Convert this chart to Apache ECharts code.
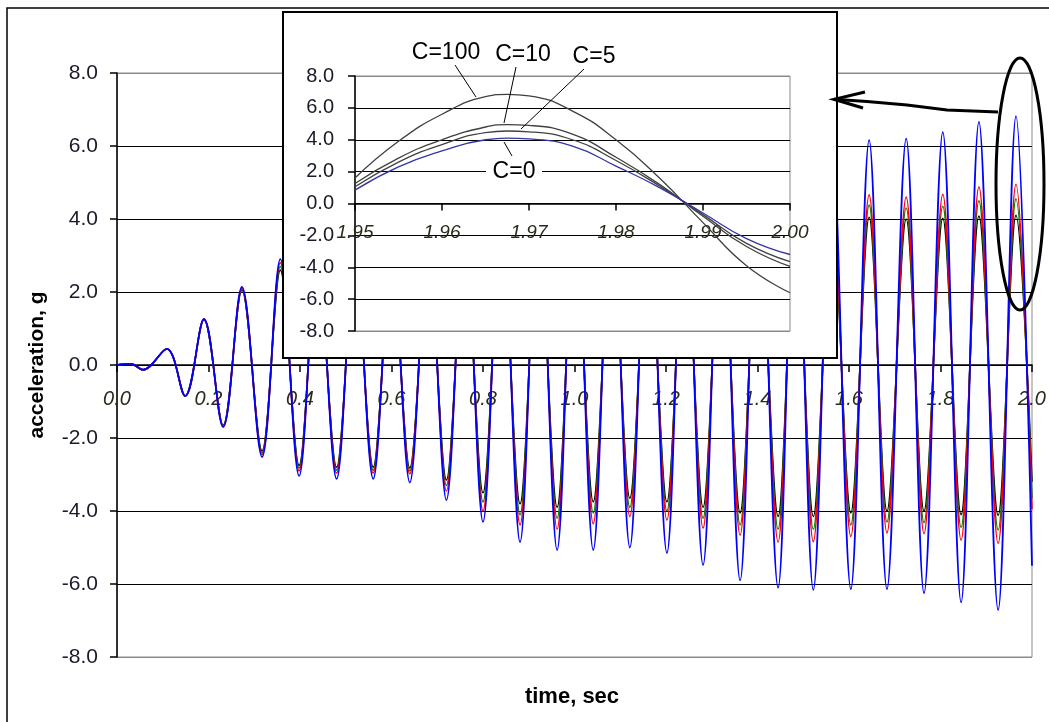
<!DOCTYPE html>
<html>
<head>
<meta charset="utf-8">
<script src="https://cdn.jsdelivr.net/npm/echarts@6/dist/echarts.min.js"></script>
<style>
html,body{margin:0;padding:0;background:#fff;}
#chart{width:1049px;height:722px;}
</style>
</head>
<body>
<div id="chart"></div>
<script>
// ---------- main chart data (time of each peak / trough, seconds) ----------
const mainTime = [0, 0.03, 0.057, 0.109, 0.149, 0.19, 0.232, 0.273, 0.317, 0.357, 0.398,
  0.438, 0.48, 0.52, 0.56, 0.60, 0.64, 0.68, 0.72,
  0.76, 0.80, 0.84, 0.881, 0.921, 0.962, 1.001, 1.041,
  1.081, 1.121, 1.161, 1.202, 1.241, 1.281, 1.321, 1.362,
  1.402, 1.445, 1.483, 1.522, 1.563, 1.604, 1.644, 1.683,
  1.725, 1.764, 1.805, 1.845, 1.884, 1.926, 1.965, 2.0];

const blueC100 = [0, 0.03, -0.13, 0.44, -0.85, 1.26, -1.7, 2.14, -2.52, 2.9, -3.04,
  3.1, -3.12, 3.15, -3.12, 3.2, -3.22, 3.5, -3.7,
  4.0, -4.3, 4.6, -4.85, 5.0, -5.07, 5.05, -5.07,
  5.05, -5.0, 5.1, -5.15, 5.3, -5.48, 5.7, -5.9,
  6.0, -6.1, 6.15, -6.16, 6.15, -6.14, 6.16, -6.14,
  6.2, -6.25, 6.38, -6.5, 6.66, -6.71, 6.82, -5.5];

const redC10 = [0, 0.03, -0.13, 0.44, -0.85, 1.25, -1.68, 2.1, -2.45, 2.8, -2.9,
  2.95, -2.96, 2.95, -2.96, 2.95, -2.98, 3.25, -3.45,
  3.75, -4.0, 4.25, -4.38, 4.45, -4.5, 4.4, -4.35,
  4.2, -4.15, 4.2, -4.25, 4.35, -4.47, 4.6, -4.66,
  4.75, -4.85, 4.8, -4.84, 4.75, -4.7, 4.66, -4.6,
  4.6, -4.62, 4.68, -4.8, 4.88, -4.89, 4.95, -3.95];

const greenC5 = [0, 0.03, -0.13, 0.44, -0.85, 1.25, -1.67, 2.08, -2.4, 2.7, -2.82,
  2.85, -2.88, 2.85, -2.88, 2.85, -2.9, 3.1, -3.3,
  3.55, -3.75, 3.95, -4.1, 4.15, -4.2, 4.1, -4.05,
  3.95, -3.9, 3.95, -4.0, 4.1, -4.2, 4.3, -4.38,
  4.45, -4.5, 4.45, -4.5, 4.42, -4.38, 4.38, -4.3,
  4.3, -4.32, 4.35, -4.45, 4.5, -4.52, 4.55, -3.65];

const blackC0 = [0, 0.03, -0.13, 0.44, -0.85, 1.24, -1.65, 2.05, -2.35, 2.6, -2.75,
  2.75, -2.8, 2.75, -2.8, 2.75, -2.82, 2.95, -3.15,
  3.35, -3.5, 3.65, -3.8, 3.85, -3.9, 3.8, -3.75,
  3.7, -3.65, 3.7, -3.75, 3.8, -3.9, 3.95, -4.05,
  4.1, -4.15, 4.1, -4.15, 4.05, -4.05, 4.05, -4.0,
  4.0, -4.0, 4.02, -4.1, 4.08, -4.12, 4.1, -3.2];

// ---------- inset data (zoom on the last peak) ----------
const insetTime = [1.95, 1.955, 1.96, 1.965, 1.9675, 1.97, 1.975, 1.98, 1.985, 1.99, 1.995, 2.0];
const insetC100 = [1.6, 3.9, 5.6, 6.7, 6.85, 6.75, 5.8, 4.0, 1.6, -1.2, -3.9, -5.6];
const insetC10  = [1.25, 2.85, 4.0, 4.8, 4.95, 4.9, 4.35, 2.9, 1.2, -0.8, -2.7, -3.95];
const insetC5   = [1.05, 2.6, 3.7, 4.45, 4.55, 4.5, 4.0, 2.7, 1.1, -0.7, -2.5, -3.65];
const insetC0   = [0.84, 2.3, 3.3, 4.0, 4.1, 4.05, 3.6, 2.35, 1.0, -0.6, -2.2, -3.2];

const insetLabels = ['C=100', 'C=10', 'C=5', 'C=0'];
const axisNames = {x: 'time, sec', y: 'acceleration, g'};

function pairs(t, v) { return t.map((x, i) => [x, v[i]]); }

const FONT = '"Liberation Sans", Arial, sans-serif';
const GRAY = '#8a8a8a';
const gridColors = [GRAY, '#000', '#000', '#000', '#000', '#000', '#000', '#000', GRAY];

function yAxisCfg(gridIndex, margin, fontSize, z) {
  return {
    type: 'value', gridIndex: gridIndex, min: -8, max: 8, interval: 2, z: z,
    axisLine: {show: true, onZero: false, lineStyle: {color: '#000', width: 1.5}},
    axisTick: {show: true, length: 7, lineStyle: {color: '#000', width: 1.5}},
    axisLabel: {margin: margin, fontSize: fontSize, fontFamily: FONT, color: '#1a1a2a',
      formatter: v => v.toFixed(1)},
    splitLine: {show: true, lineStyle: {color: gridColors, width: 1.2}}
  };
}

// grid geometry
const mainGrid = {left: 117, top: 73, width: 915, height: 584};
const insetGrid = {left: 355, top: 76, width: 435, height: 255};
// x axis sits on the y = 0 line (middle of a symmetric -8..8 range)
const mainZeroOffset = -mainGrid.height / 2;
const insetZeroOffset = -insetGrid.height / 2;

const chart = echarts.init(document.getElementById('chart'), null, {renderer: 'canvas'});

const option = {
  animation: false,
  backgroundColor: '#fff',
  grid: [
    Object.assign({show: true, borderColor: GRAY, borderWidth: 1, backgroundColor: 'transparent', z: 0}, mainGrid),
    Object.assign({show: true, borderColor: GRAY, borderWidth: 1, backgroundColor: 'transparent', z: 6}, insetGrid)
  ],
  xAxis: [
    {type: 'value', gridIndex: 0, min: 0, max: 2, interval: 0.2, z: 1,
     position: 'bottom', offset: mainZeroOffset,
     axisLine: {onZero: false, lineStyle: {color: '#000', width: 1.5}},
     axisTick: {length: 7, lineStyle: {color: '#000', width: 1.5}},
     axisLabel: {margin: 24, fontSize: 20, fontStyle: 'italic', fontFamily: FONT, color: '#2a2a1a',
       showMinLabel: true, showMaxLabel: true, formatter: v => v.toFixed(1)},
     splitLine: {show: false}},
    {type: 'value', gridIndex: 1, min: 1.95, max: 2.0, interval: 0.01, z: 7,
     position: 'bottom', offset: insetZeroOffset,
     axisLine: {onZero: false, lineStyle: {color: '#000', width: 1.5}},
     axisTick: {length: 7, lineStyle: {color: '#000', width: 1.5}},
     axisLabel: {margin: 20, fontSize: 19, fontStyle: 'italic', fontFamily: FONT, color: '#2a2a1a',
       showMinLabel: true, showMaxLabel: true, formatter: v => v.toFixed(2)},
     splitLine: {show: false}}
  ],
  yAxis: [
    yAxisCfg(0, 19, 21, 1),
    yAxisCfg(1, 21, 20, 7)
  ],
  series: [
    {type: 'line', xAxisIndex: 0, yAxisIndex: 0, z: 2, showSymbol: false, smooth: 0.36,
     data: pairs(mainTime, blackC0), lineStyle: {color: '#000000', width: 1.6}},
    {type: 'line', xAxisIndex: 0, yAxisIndex: 0, z: 2, showSymbol: false, smooth: 0.36,
     data: pairs(mainTime, greenC5), lineStyle: {color: '#008000', width: 1.6}},
    {type: 'line', xAxisIndex: 0, yAxisIndex: 0, z: 2, showSymbol: false, smooth: 0.36,
     data: pairs(mainTime, redC10), lineStyle: {color: '#ff0000', width: 1.6}},
    {type: 'line', xAxisIndex: 0, yAxisIndex: 0, z: 2, showSymbol: false, smooth: 0.36,
     data: pairs(mainTime, blueC100), lineStyle: {color: '#0000ff', width: 1.8}},

    {type: 'line', xAxisIndex: 1, yAxisIndex: 1, z: 8, showSymbol: false, smooth: 0.5,
     data: pairs(insetTime, insetC100), lineStyle: {color: '#404040', width: 1.3}},
    {type: 'line', xAxisIndex: 1, yAxisIndex: 1, z: 8, showSymbol: false, smooth: 0.5,
     data: pairs(insetTime, insetC10), lineStyle: {color: '#404040', width: 1.3}},
    {type: 'line', xAxisIndex: 1, yAxisIndex: 1, z: 8, showSymbol: false, smooth: 0.5,
     data: pairs(insetTime, insetC5), lineStyle: {color: '#404040', width: 1.3}},
    {type: 'line', xAxisIndex: 1, yAxisIndex: 1, z: 8, showSymbol: false, smooth: 0.5,
     data: pairs(insetTime, insetC0), lineStyle: {color: '#3535a5', width: 1.3}}
  ],
  graphic: {
    elements: [
      // outer frame (left and top edges visible)
      {type: 'polyline', z: 20, silent: true, shape: {points: [[7, 730], [7, 8], [1060, 8]]},
       style: {fill: 'none', stroke: '#000', lineWidth: 1.5}},
      // inset box
      {type: 'rect', z: 5, shape: {x: 283, y: 12, width: 554, height: 346},
       style: {fill: '#fff', stroke: '#000', lineWidth: 2}},
      // axis names
      {type: 'text', z: 20, x: 572, y: 697,
       style: {text: axisNames.x, font: 'bold 22px ' + FONT, fill: '#000', textAlign: 'center', textVerticalAlign: 'middle'}},
      {type: 'text', z: 20, x: 37, y: 365, rotation: Math.PI / 2,
       style: {text: axisNames.y, font: 'bold 21px ' + FONT, fill: '#000', textAlign: 'center', textVerticalAlign: 'middle'}},
      // ellipse and arrow
      {type: 'ellipse', z: 20, shape: {cx: 1020, cy: 184, rx: 24, ry: 126},
       style: {fill: 'none', stroke: '#000', lineWidth: 3}},
      {type: 'polyline', z: 20, shape: {points: [[998, 112], [947, 110], [907, 105], [867, 101.5], [834, 99.3]]},
       style: {fill: 'none', stroke: '#000', lineWidth: 3}},
      {type: 'polyline', z: 20, shape: {points: [[865, 92], [834, 99.3], [863, 108]]},
       style: {fill: 'none', stroke: '#000', lineWidth: 3}},
      // inset annotations
      {type: 'line', z: 9, shape: {x1: 455, y1: 65, x2: 476, y2: 97}, style: {stroke: '#000', lineWidth: 1}},
      {type: 'line', z: 9, shape: {x1: 516, y1: 67, x2: 504, y2: 123}, style: {stroke: '#000', lineWidth: 1}},
      {type: 'line', z: 9, shape: {x1: 584, y1: 69, x2: 521, y2: 129}, style: {stroke: '#000', lineWidth: 1}},
      {type: 'line', z: 9, shape: {x1: 504, y1: 142, x2: 512, y2: 156}, style: {stroke: '#000', lineWidth: 1}},
      {type: 'rect', z: 9, shape: {x: 486, y: 162, width: 56, height: 21}, style: {fill: '#fff'}},
      {type: 'text', z: 10, x: 446, y: 53,
       style: {text: insetLabels[0], font: '23px ' + FONT, fill: '#000', textAlign: 'center', textVerticalAlign: 'middle'}},
      {type: 'text', z: 10, x: 523, y: 55,
       style: {text: insetLabels[1], font: '23px ' + FONT, fill: '#000', textAlign: 'center', textVerticalAlign: 'middle'}},
      {type: 'text', z: 10, x: 594, y: 57,
       style: {text: insetLabels[2], font: '23px ' + FONT, fill: '#000', textAlign: 'center', textVerticalAlign: 'middle'}},
      {type: 'text', z: 10, x: 514, y: 172,
       style: {text: insetLabels[3], font: '23px ' + FONT, fill: '#000', textAlign: 'center', textVerticalAlign: 'middle'}}
    ]
  }
};
chart.setOption(option);
</script>
</body>
</html>
